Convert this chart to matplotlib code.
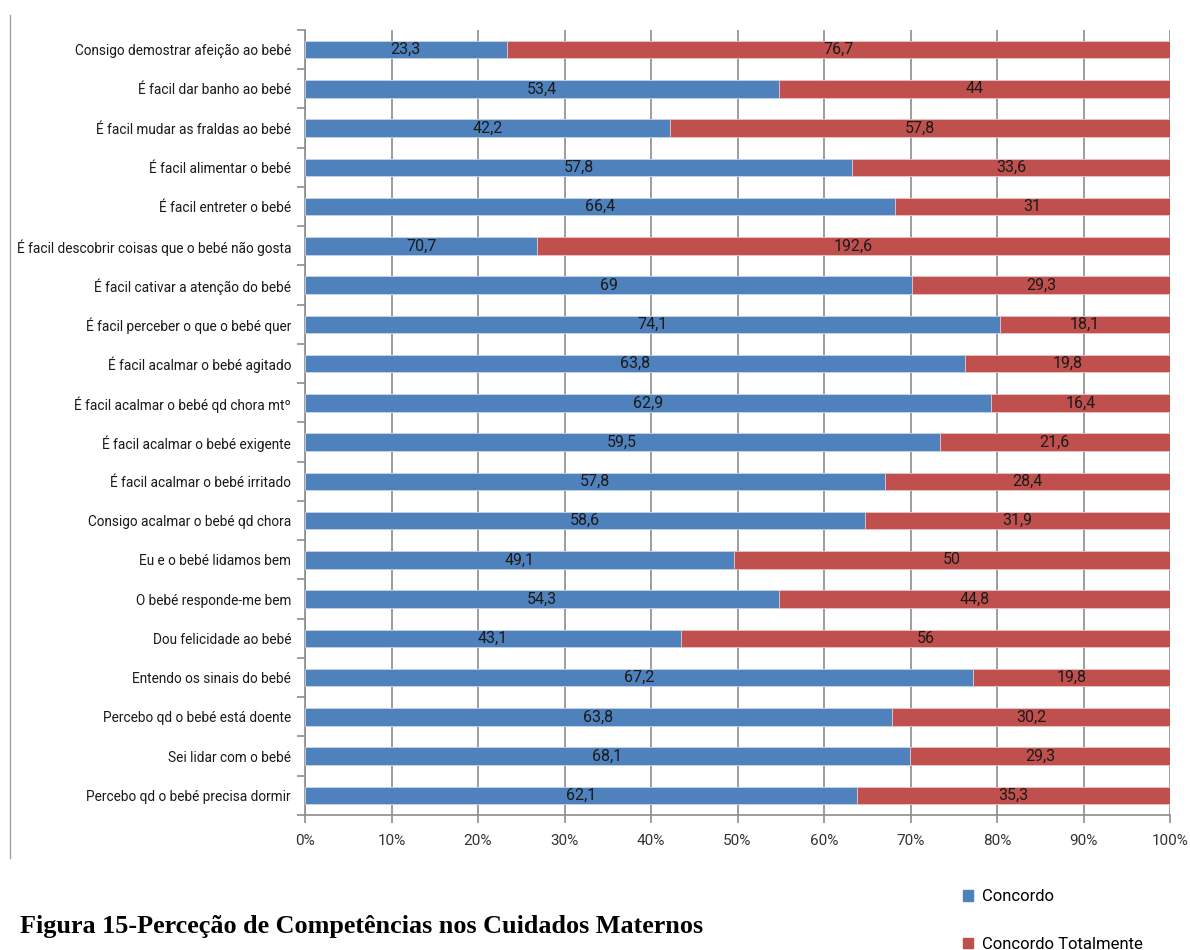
import matplotlib
matplotlib.use("Agg")
import matplotlib.pyplot as plt
from matplotlib.lines import Line2D
import numpy as np

categories = [
    "Consigo demostrar afeição ao bebé",
    "É facil dar banho ao bebé",
    "É facil mudar as fraldas ao bebé",
    "É facil alimentar o bebé",
    "É facil entreter o bebé",
    "É facil descobrir coisas que o bebé não gosta",
    "É facil cativar a atenção do bebé",
    "É facil perceber o que o bebé quer",
    "É facil acalmar o bebé agitado",
    "É facil acalmar o bebé qd chora mtº",
    "É facil acalmar o bebé exigente",
    "É facil acalmar o bebé irritado",
    "Consigo acalmar o bebé qd chora",
    "Eu e o bebé lidamos bem",
    "O bebé responde-me bem",
    "Dou felicidade ao bebé",
    "Entendo os sinais do bebé",
    "Percebo qd o bebé está doente",
    "Sei lidar com o bebé",
    "Percebo qd o bebé precisa dormir",
]
concordo = [23.3, 53.4, 42.2, 57.8, 66.4, 70.7, 69, 74.1, 63.8, 62.9,
            59.5, 57.8, 58.6, 49.1, 54.3, 43.1, 67.2, 63.8, 68.1, 62.1]
concordo_tot = [76.7, 44, 57.8, 33.6, 31, 192.6, 29.3, 18.1, 19.8, 16.4,
                21.6, 28.4, 31.9, 50, 44.8, 56, 19.8, 30.2, 29.3, 35.3]
series_names = ["Concordo", "Concordo Totalmente"]
xticks = [0, 10, 20, 30, 40, 50, 60, 70, 80, 90, 100]

FONT = ["Roboto", "DejaVu Sans"]
plt.rcParams['font.family'] = FONT

c1 = np.array(concordo, dtype=float)
c2 = np.array(concordo_tot, dtype=float)
tot = c1 + c2
p1 = c1 / tot * 100
p2 = c2 / tot * 100

blue = "#4F81BD"
red = "#C0504D"

fig = plt.figure(figsize=(11.9, 9.5), dpi=100)
ax = fig.add_axes([305/1190, 1 - 815/950, (1170-305)/1190, (815-30)/950])

y = np.arange(len(categories))
h = 0.44
ax.barh(y, p1, height=h, color=blue, edgecolor="#c5d5ea", linewidth=0.6, zorder=3)
ax.barh(y, p2, left=p1, height=h, color=red, edgecolor="#e8c4c3", linewidth=0.6, zorder=3)

def fmt(v):
    s = ("%.1f" % v).rstrip("0").rstrip(".")
    return s.replace(".", ",")

for i in range(len(categories)):
    ax.text(p1[i] / 2, y[i], fmt(c1[i]), ha="center", va="center",
            fontsize=11.5, color="#1a1a1a", zorder=4)
    ax.text(p1[i] + p2[i] / 2, y[i], fmt(c2[i]), ha="center", va="center",
            fontsize=11.5, color="#1a1a1a", zorder=4)

ax.set_ylim(len(categories) - 0.5, -0.5)
ax.set_xlim(0, 100)
ax.set_xticks(xticks)
ax.set_xticklabels(["%d%%" % t for t in xticks], fontsize=11, color="#333333")
ax.set_yticks(y)
ax.set_yticklabels(categories, fontsize=9.8, color="#1a1a1a")
ax.set_yticks(np.arange(len(categories) + 1) - 0.5, minor=True)
ax.tick_params(axis="y", which="major", length=0, pad=10)
ax.tick_params(axis="y", which="minor", length=6, color="#8c8c8c", width=1.2)
ax.tick_params(axis="x", which="major", length=6, color="#8c8c8c", width=1.2, pad=8)

ax.grid(axis="x", color="#8c8c8c", linewidth=1.2, zorder=0)
for s in ["top", "right"]:
    ax.spines[s].set_visible(False)
ax.spines["left"].set_color("#8c8c8c")
ax.spines["left"].set_linewidth(1.2)
ax.spines["bottom"].set_color("#8c8c8c")
ax.spines["bottom"].set_linewidth(1.2)

# left border line of chart frame
fig.add_artist(Line2D([10/1190, 10/1190], [1 - 15/950, 1 - 858/950],
                      color="#a0a0a0", linewidth=1.0))

handles = [plt.Rectangle((0, 0), 1, 1, color=blue), plt.Rectangle((0, 0), 1, 1, color=red)]
fig.legend(handles, series_names, loc="upper left",
           bbox_to_anchor=(960/1190, 1 - 886/950), frameon=False,
           fontsize=12, handlelength=0.6, handleheight=0.6,
           handletextpad=0.5, labelspacing=1.95, borderaxespad=0, borderpad=0.2)

fig.text(20/1190, 1 - 927/950, "Figura 15-Perceção de Competências nos Cuidados Maternos",
         fontsize=18.8, fontweight="bold", family=["Liberation Serif", "DejaVu Serif"],
         va="center", ha="left")

fig.savefig("out.png", dpi=100)
